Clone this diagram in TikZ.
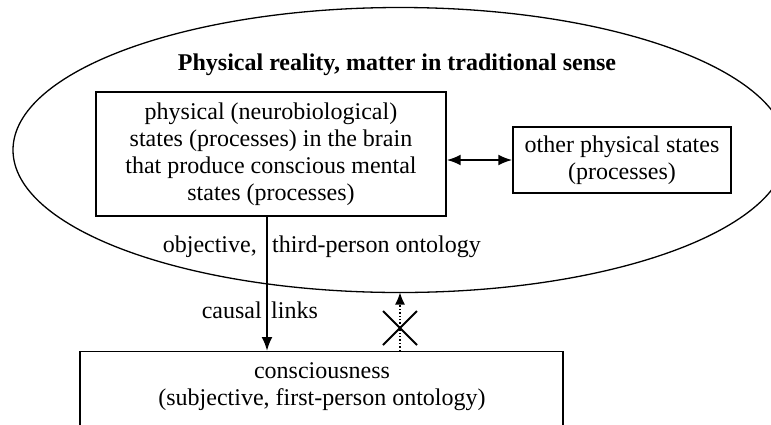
\documentclass[tikz,border=0pt]{standalone}
\usepackage{fontspec}
\setmainfont{Liberation Serif}
\usetikzlibrary{arrows.meta,shapes.geometric}
\begin{document}
\begin{tikzpicture}[x=1pt,y=-1pt,
  every node/.style={font=\fontsize{24}{27}\selectfont},
  boxnode/.style={draw,line width=1.4pt,inner sep=0pt,align=center},
  arr/.style={line width=2.2pt,-{Latex[length=14pt,width=11pt]}},
  darr/.style={line width=2.2pt,{Latex[length=14pt,width=11pt]}-{Latex[length=14pt,width=11pt]}},
  dotarr/.style={line width=1.4pt,dotted,-{Latex[length=12pt,width=10pt]}},
  lbl/.style={inner sep=0pt,anchor=base}]
\useasboundingbox (0,0) rectangle (771,424);
\clip (0,0) rectangle (771,424);
\node[ellipse,draw,line width=1.3pt,minimum width=774pt,minimum height=285pt,inner sep=0pt,outer sep=0pt] (phys) at (400,150) {};
\node[lbl,font=\fontsize{24}{27}\selectfont\bfseries] (title) at (397,70) {Physical reality, matter in traditional sense};
\node[boxnode,minimum width=350pt,minimum height=124pt] (brain) at (271,154)
  {physical (neurobiological)\\states (processes) in the brain\\that produce conscious mental\\states (processes)};
\node[boxnode,minimum width=218pt,minimum height=66pt] (other) at (622,160)
  {other physical states\\(processes)};
\node[draw,line width=1.4pt,minimum width=483pt,minimum height=100pt,inner sep=0pt,anchor=north] (cons) at (321.5,351) {};
\node[align=center,inner sep=0pt] (constext) at (322,387) {consciousness\\(subjective, first-person ontology)};
\node[lbl,anchor=base east] (obj) at (257,252) {objective,};
\node[lbl,anchor=base west] (third) at (272,252) {third-person ontology};
\node[lbl,anchor=base east] (causal) at (262,318) {causal};
\node[lbl,anchor=base west] (links) at (271,318) {links};
\draw[arr] ([xshift=-4pt]brain.south) -- ([xshift=-4pt]brain.south |- cons.north);
\draw[darr] (brain.east |- other.west) -- (other.west);
\draw[dotarr] (cons.north -| phys.south) -- (phys.south);
\coordinate (xmark) at (400,328);
\draw[line width=1.9pt] ([shift={(-17,-17)}]xmark) -- ([shift={(17,17)}]xmark);
\draw[line width=1.9pt] ([shift={(-17,17)}]xmark) -- ([shift={(17,-17)}]xmark);
\end{tikzpicture}
\end{document}
